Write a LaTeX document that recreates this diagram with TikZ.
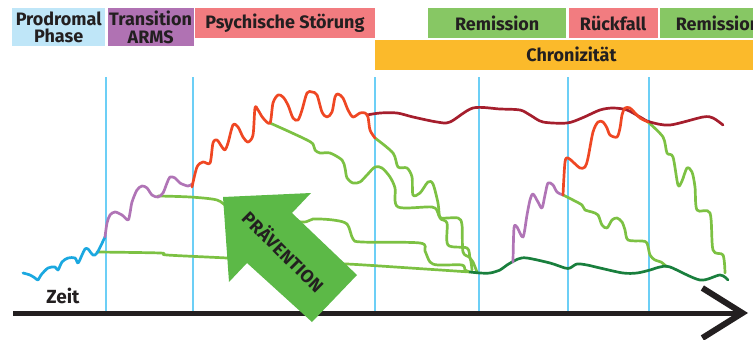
\documentclass[tikz,border=0pt]{standalone}
\usepackage{fontspec}
\setmainfont{Fira Sans}
\newfontfamily\spacedfont[LetterSpace=2]{Fira Sans}
\usetikzlibrary{positioning,arrows.meta}
\definecolor{prodblue}{HTML}{BFE6F8}
\definecolor{armspurple}{HTML}{B072B3}
\definecolor{stoerpink}{HTML}{F27C80}
\definecolor{remgreen}{HTML}{87C764}
\definecolor{chronorange}{HTML}{FBBA2B}
\definecolor{gridblue}{HTML}{6CCFF6}
\definecolor{wblue}{HTML}{1BA8E0}
\definecolor{wpurple}{HTML}{B074B6}
\definecolor{wred}{HTML}{EF4723}
\definecolor{wdarkred}{HTML}{A51E2D}
\definecolor{wgreen}{HTML}{7CC143}
\definecolor{wdarkgreen}{HTML}{197F3D}
\definecolor{prevgreen}{HTML}{5CB947}
\definecolor{ink}{HTML}{231F20}

\begin{document}
\begin{tikzpicture}[x=1pt,y=-1pt,
  phase/.style={fill=#1, inner sep=0pt, text=ink, align=center,
                font=\bfseries\fontsize{18}{17.5}\selectfont},
  tick/.style={gridblue, line width=1.3pt},
  wave/.style={#1, line width=2.7pt, line cap=round, line join=round},
  axis/.style={ink, line width=5pt}]
\useasboundingbox (0,0) rectangle (753,340);
\clip (0,0) rectangle (753,340);

% Phases
\node[phase=prodblue, anchor=north west, minimum width=93pt, minimum height=38pt]
  (prod) at (12,8) {Prodromal\\Phase};
\node[phase=armspurple, right=2pt of prod.north east, anchor=north west,
  minimum width=86pt, minimum height=38pt] (arms) {Transition\\ARMS};
\node[phase=stoerpink, right=1pt of arms.north east, anchor=north west,
  minimum width=180pt, minimum height=30pt] (stoer) {Psychische Störung};
\node[phase=chronorange, below=1pt of stoer.south east, anchor=north west,
  minimum width=392pt, minimum height=30pt] (chron) {Chronizität};
\node[phase=remgreen, anchor=north west, minimum width=138pt, minimum height=30pt]
  (rem) at (428,8) {Remission};
\node[phase=stoerpink, right=2pt of rem.north east, anchor=north west,
  minimum width=89pt, minimum height=30pt] (rueck) {Rückfall};
\node[phase=remgreen, right=2pt of rueck.north east, anchor=north west,
  minimum width=116pt, minimum height=30pt] (rem2) {Remission};

% Grid
\foreach \x in {106,193,375,479,568,649}
  \draw[tick] (\x,77) -- (\x,313);

% Courses
\draw[wave=wgreen] plot[smooth] coordinates {(97,252) (160,253) (167,255) (227,258)
  (300,262) (347,264) (380,266) (470,272)};
\draw[wave=wgreen] plot[smooth] coordinates {(158,196) (190,197) (217,200) (230,208)
  (260,216) (302,222) (313,219) (333,220) (347,224) (353,239) (362,242) (420,243)
  (425,251) (430,262) (438,265) (462,265) (465,270) (470,272)};
\draw[wave=wgreen] plot[smooth] coordinates {(270,123) (290,132) (307,140) (313,144)
  (315,150) (320,153) (330,153) (342,160) (345,168) (347,178) (353,183) (360,182)
  (367,175) (375,167) (382,168) (390,177) (395,188) (398,207) (432,207) (438,213)
  (441,218) (458,218) (462,225) (463,252) (470,258) (472,270)};
\draw[wave=wgreen] plot[smooth] coordinates {(375,138) (393,153) (398,167) (407,168)
  (412,177) (413,195) (420,193) (428,182) (433,184) (438,203) (440,218) (447,223)
  (448,245) (467,248) (470,258) (473,262) (477,272)};
\draw[wave=wgreen] plot[smooth] coordinates {(563,195) (573,200) (582,205) (585,210)
  (592,212) (598,215) (602,225) (607,228) (612,220) (617,218) (622,222) (625,230)
  (628,240) (642,241) (647,243) (650,255) (655,260) (661,262) (667,267)};
\draw[wave=wgreen] plot[smooth] coordinates {(648,122) (663,137) (667,153) (673,157)
  (678,185) (682,181) (687,168) (692,172) (695,187) (697,210) (710,213) (713,250)
  (723,255) (725,273)};
\draw[wave=wdarkgreen] plot[smooth] coordinates {(470,272) (480,273) (490,273) (500,270)
  (507,265) (518,259) (527,258) (550,263) (565,268) (570,268) (577,264) (587,265)
  (600,268) (623,273) (637,273) (650,270) (660,267) (670,267) (700,280) (720,275)
  (728,280)};
\draw[wave=wdarkred] plot[smooth] coordinates {(367,115) (380,113) (397,113) (413,117)
  (437,122) (450,122) (473,108) (500,109) (520,110) (530,115) (543,122) (567,123)
  (582,118) (600,110) (613,108) (627,110) (640,117) (650,122) (670,125) (703,117)
  (713,118) (723,125)};
\draw[wave=wblue] plot[smooth] coordinates {(23,273) (30,275) (35,278) (38,280)
  (41,275) (48,268) (55,267) (58,270) (62,262) (68,258) (75,258) (78,263) (82,255)
  (85,249) (88,249) (93,255) (97,253) (105,237)};
\draw[wave=wpurple] plot[smooth] coordinates {(105,237) (107,223) (110,215) (115,212)
  (122,215) (128,220) (130,213) (132,202) (137,190) (142,186) (147,188) (152,195)
  (158,197) (163,193) (167,183) (170,177) (175,178) (180,183) (188,186) (192,184)};
\draw[wave=wred] plot[smooth] coordinates {(192,187) (197,167) (203,162) (210,163)
  (213,143) (217,140) (222,147) (225,150) (228,143) (233,125) (238,127) (243,137)
  (248,142) (253,135) (255,108) (258,110) (263,118) (270,123) (273,103) (278,95)
  (283,97) (288,105) (293,118) (298,120) (302,110) (307,93) (312,92) (317,95)
  (322,112) (327,117) (332,112) (335,97) (338,94) (343,98) (348,110) (353,117)
  (360,113) (365,113) (368,117) (370,130) (375,138)};
\draw[wave=wpurple] plot[smooth] coordinates {(513,262) (514,228) (517,227) (523,237)
  (527,215) (530,200) (533,194) (538,202) (542,208) (545,195) (548,183) (553,185)
  (557,192) (563,195)};
\draw[wave=wred] plot[smooth] coordinates {(563,195) (565,162) (568,158) (573,162)
  (580,168) (585,167) (588,158) (593,132) (598,122) (603,122) (607,128) (610,135)
  (617,137) (620,128) (622,115) (625,108) (630,108) (635,113) (640,118) (648,122)};

% Time axis
\coordinate (t0) at (13,313);
\coordinate (t1) at (748,313);
\draw[axis, -{Straight Barb[length=40pt, width=50pt, line width=6pt]}] (t0) -- (t1);
\node[font=\bfseries\fontsize{19}{19}\selectfont, text=ink] (zeit) at (63,296) {Zeit};

% Prevention arrow
\fill[prevgreen] (223,197) -- (311,193) -- (292,213) -- (357,275) -- (312,322)
  -- (247,263) -- (229,282) -- cycle;
\node[rotate=-45, text=ink, font=\spacedfont\bfseries\fontsize{18}{18}\selectfont]
  (praev) at (284,251) {PRÄVENTION};

\end{tikzpicture}
\end{document}
